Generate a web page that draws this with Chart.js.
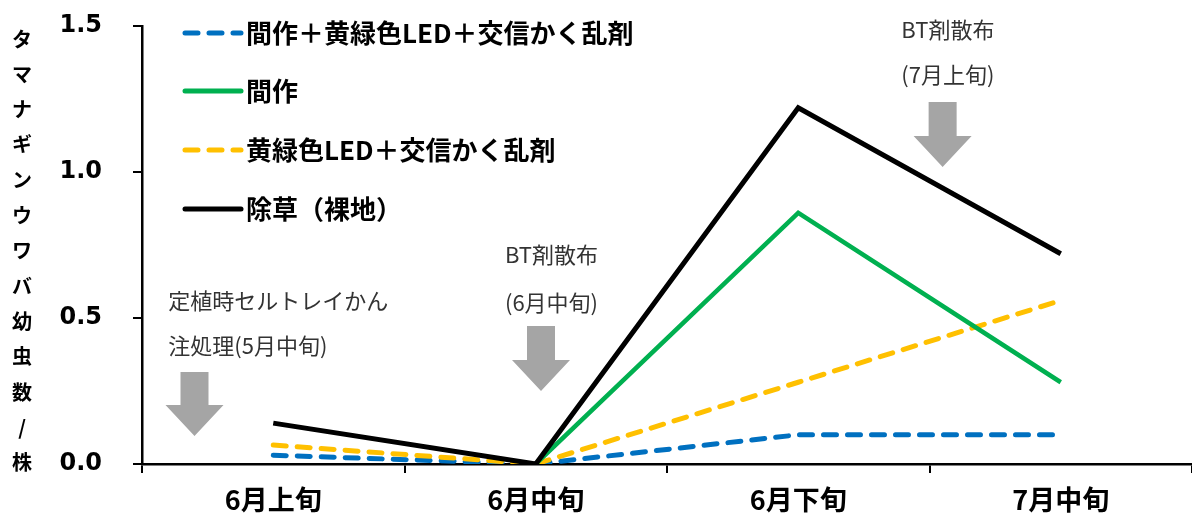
<!DOCTYPE html>
<html lang="ja">
<head>
<meta charset="utf-8">
<title>タマナギンウワバ幼虫数</title>
<script src="https://cdn.jsdelivr.net/npm/chart.js@4/dist/chart.umd.min.js"></script>
<style>
  html, body { margin: 0; padding: 0; background: #fff; }
  canvas { display: block; }
</style>
</head>
<body>
<canvas id="larvaChart" width="1192" height="524"></canvas>
<script>
const periods = ['6月上旬', '6月中旬', '6月下旬', '7月中旬'];

const mixedLedMating = [0.03, 0, 0.10, 0.10];
const intercrop = [null, 0, 0.86, 0.28];
const ledMating = [0.065, 0, 0.28, 0.56];
const bareGround = [0.14, 0, 1.22, 0.72];

const yTicks = [0, 0.5, 1.0, 1.5];
const yTitle = 'タマナギンウワバ幼虫数/株';

// treatment timings: x in category units, y in count units
const treatments = [
  { x: -0.30, top: 0.315, tip: 0.096, lines: ['定植時セルトレイかん', '注処理(5月中旬)'], textX: -0.40, textY: [0.56, 0.405], align: 'left' },
  { x: 1.02, top: 0.473, tip: 0.25, lines: ['BT剤散布', '(6月中旬)'], textX: 1.06, textY: [0.716, 0.553], align: 'center' },
  { x: 2.55, top: 1.24, tip: 1.017, lines: ['BT剤散布', '(7月上旬)'], textX: 2.57, textY: [1.486, 1.332], align: 'center' }
];

const jpFont = '"Noto Sans CJK JP", "Noto Sans", sans-serif';

const overlay = {
  id: 'overlay',
  afterDraw(chart) {
    const { ctx, scales: { x, y } } = chart;
    ctx.save();

    // vertical axis title, one character per row
    ctx.fillStyle = '#000';
    ctx.font = 'bold 20px ' + jpFont;
    ctx.textAlign = 'center';
    ctx.textBaseline = 'middle';
    const chars = Array.from(yTitle);
    const step = 35.3;
    chars.forEach((c, i) => ctx.fillText(c, 22, 39 + i * step));

    // legend
    const rows = [33, 91, 150, 209];
    chart.data.datasets.forEach((ds, i) => {
      const ly = rows[i];
      ctx.beginPath();
      ctx.strokeStyle = ds.borderColor;
      ctx.lineWidth = 5;
      ctx.lineCap = 'round';
      ctx.setLineDash(ds.borderDash && ds.borderDash.length ? [13, 11] : []);
      ctx.moveTo(185, ly);
      ctx.lineTo(241, ly);
      ctx.stroke();
      ctx.setLineDash([]);
      ctx.fillStyle = '#000';
      ctx.font = 'bold 26px ' + jpFont;
      ctx.textAlign = 'left';
      ctx.fillText(ds.label, 246, ly);
    });

    // treatment arrows and notes
    treatments.forEach(t => {
      const cx = x.getPixelForValue(t.x);
      const top = y.getPixelForValue(t.top);
      const tip = y.getPixelForValue(t.tip);
      const headLen = 31;
      ctx.fillStyle = '#a5a5a5';
      ctx.beginPath();
      ctx.moveTo(cx - 14, top);
      ctx.lineTo(cx + 14, top);
      ctx.lineTo(cx + 14, tip - headLen);
      ctx.lineTo(cx + 29, tip - headLen);
      ctx.lineTo(cx, tip);
      ctx.lineTo(cx - 29, tip - headLen);
      ctx.lineTo(cx - 14, tip - headLen);
      ctx.closePath();
      ctx.fill();

      ctx.fillStyle = '#333';
      ctx.font = '22px ' + jpFont;
      ctx.textAlign = t.align;
      const tx = x.getPixelForValue(t.textX);
      t.lines.forEach((line, i) => ctx.fillText(line, tx, y.getPixelForValue(t.textY[i])));
    });

    ctx.restore();
  }
};

new Chart(document.getElementById('larvaChart'), {
  type: 'line',
  data: {
    labels: periods,
    datasets: [
      { label: '間作＋黄緑色LED＋交信かく乱剤', data: mixedLedMating, borderColor: '#0070C0', borderDash: [13, 11], borderWidth: 5, borderCapStyle: 'round', order: 4 },
      { label: '間作', data: intercrop, borderColor: '#00B050', borderWidth: 4.5, order: 2 },
      { label: '黄緑色LED＋交信かく乱剤', data: ledMating, borderColor: '#FFC000', borderDash: [13, 11], borderWidth: 5, borderCapStyle: 'round', order: 3 },
      { label: '除草（裸地）', data: bareGround, borderColor: '#000000', borderWidth: 5, order: 1 }
    ]
  },
  options: {
    responsive: false,
    animation: false,
    layout: { padding: { top: 26, right: 0, left: 0, bottom: 0 } },
    elements: {
      point: { radius: 0, hoverRadius: 0 },
      line: { tension: 0, fill: false }
    },
    plugins: {
      legend: { display: false },
      tooltip: { enabled: false }
    },
    scales: {
      x: {
        offset: true,
        grid: { display: true, drawOnChartArea: false, offset: true, color: '#000', lineWidth: 2, tickLength: 9 },
        border: { color: '#000', width: 2.5 },
        ticks: { color: '#000', font: { family: jpFont, size: 27, weight: 'bold' }, padding: 11 },
        afterFit(scale) { scale.height = 60; }
      },
      y: {
        min: 0,
        max: 1.5,
        afterBuildTicks(scale) { scale.ticks = yTicks.map(v => ({ value: v })); },
        grid: { display: true, drawOnChartArea: false, color: '#000', lineWidth: 2, tickLength: 9 },
        border: { color: '#000', width: 2.5 },
        ticks: {
          color: '#000',
          font: { family: '"DejaVu Sans", sans-serif', size: 24, weight: 'bold' },
          padding: 31,
          callback: v => Number(v).toFixed(1)
        },
        afterFit(scale) {
          scale.width = 142;
          scale.paddingTop = 0;
          scale.paddingBottom = 0;
        }
      }
    }
  },
  plugins: [overlay]
});
</script>
</body>
</html>
